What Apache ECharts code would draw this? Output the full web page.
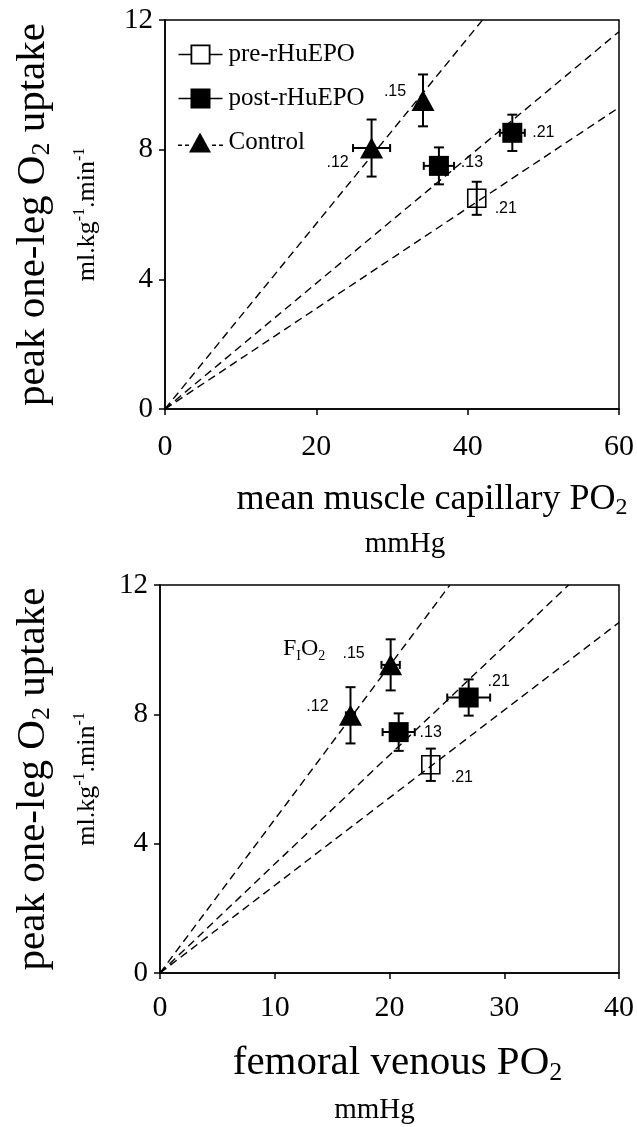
<!DOCTYPE html>
<html>
<head>
<meta charset="utf-8">
<script src="https://cdn.jsdelivr.net/npm/echarts@6/dist/echarts.min.js"></script>
<style>
html,body{margin:0;padding:0;background:#fff;}
#chart{width:637px;height:1127px;}
</style>
</head>
<body>
<div id="chart"></div>
<script>
// ---------- DATA ----------
// Top panel: mean muscle capillary PO2 (mmHg) vs peak one-leg O2 uptake
const capXTicks = [0, 20, 40, 60];
const capPreX = [41.2];
const capPreY = [6.5];
const capPreXErr = [0];
const capPreYErr = [0.51];
const capPreLabels = ['.21'];

const capPostX = [45.9, 36.2];
const capPostY = [8.52, 7.5];
const capPostXErr = [1.65, 2.0];
const capPostYErr = [0.56, 0.57];
const capPostLabels = ['.21', '.13'];

const capCtrlX = [27.3, 34.1];
const capCtrlY = [8.05, 9.52];
const capCtrlXErr = [2.45, 0];
const capCtrlYErr = [0.88, 0.8];
const capCtrlLabels = ['.12', '.15'];

const capSlopes = [0.286, 0.194, 0.155];

// Bottom panel: femoral venous PO2 (mmHg) vs peak one-leg O2 uptake
const femXTicks = [0, 10, 20, 30, 40];
const femPreX = [23.6];
const femPreY = [6.44];
const femPreXErr = [0];
const femPreYErr = [0.5];
const femPreLabels = ['.21'];

const femPostX = [26.9, 20.8];
const femPostY = [8.52, 7.45];
const femPostXErr = [1.87, 1.4];
const femPostYErr = [0.56, 0.58];
const femPostLabels = ['.21', '.13'];

const femCtrlX = [16.6, 20.1];
const femCtrlY = [7.97, 9.53];
const femCtrlXErr = [0.4, 0.8];
const femCtrlYErr = [0.87, 0.79];
const femCtrlLabels = ['.12', '.15'];

const femSlopes = [0.475, 0.337, 0.271];

const yTicks = [0, 4, 8, 12];
const seriesNames = ['pre-rHuEPO', 'post-rHuEPO', 'Control'];

// ---------- LAYOUT / STYLE (not data) ----------
const capLabelOffsets = { pre: [[29, 10]], post: [[31, 0], [33, -3]], ctrl: [[-34, 15], [-28, -9]] };
const femLabelOffsets = { pre: [[31, 13]], post: [[30, -16], [32, 0]], ctrl: [[-33, -9], [-37, -11]] };

const SERIF = 'Liberation Serif';
const SANS = 'Liberation Sans';

function pointItems(xs, ys, labels, offsets) {
  return xs.map((x, i) => ({
    value: [x, ys[i]],
    label: { show: true, formatter: labels[i], offset: offsets[i], position: 'inside',
      fontFamily: SANS, fontSize: 16, color: '#000', opacity: 1 }
  }));
}
function errRows(xs, ys, xe, ye) {
  return xs.map((x, i) => [x, ys[i], xe[i], ye[i]]);
}
function errRender(params, api) {
  const x = api.value(0), y = api.value(1), ex = api.value(2), ey = api.value(3);
  const c = api.coord([x, y]);
  const st = { stroke: '#000', lineWidth: 2 };
  const ch = [];
  if (ey > 0) {
    const t = api.coord([x, y + ey]), b = api.coord([x, y - ey]);
    ch.push({ type: 'line', shape: { x1: c[0], y1: t[1], x2: c[0], y2: b[1] }, style: st });
    ch.push({ type: 'line', shape: { x1: c[0] - 5, y1: t[1], x2: c[0] + 5, y2: t[1] }, style: st });
    ch.push({ type: 'line', shape: { x1: c[0] - 5, y1: b[1], x2: c[0] + 5, y2: b[1] }, style: st });
  }
  if (ex > 0) {
    const l = api.coord([x - ex, y]), r = api.coord([x + ex, y]);
    ch.push({ type: 'line', shape: { x1: l[0], y1: c[1], x2: r[0], y2: c[1] }, style: st });
    ch.push({ type: 'line', shape: { x1: l[0], y1: c[1] - 4, x2: l[0], y2: c[1] + 4 }, style: st });
    ch.push({ type: 'line', shape: { x1: r[0], y1: c[1] - 4, x2: r[0], y2: c[1] + 4 }, style: st });
  }
  return { type: 'group', children: ch };
}
function fitLine(slope, xMax, yMax, xi, yi) {
  const xEnd = Math.min(xMax, yMax / slope);
  return {
    type: 'line', xAxisIndex: xi, yAxisIndex: yi, symbol: 'none', silent: true, z: 1,
    data: [[0, 0], [xEnd, slope * xEnd]],
    lineStyle: { color: '#000', width: 1.4, type: [8, 5], opacity: 1 }
  };
}

function panelSeries(p, xi, yi, xMax) {
  const s = [];
  p.slopes.forEach(k => s.push(fitLine(k, xMax, 12, xi, yi)));
  s.push({ type: 'custom', xAxisIndex: xi, yAxisIndex: yi, renderItem: errRender, z: 2, silent: true,
    encode: { x: 0, y: 1 },
    data: errRows(p.preX, p.preY, p.preXE, p.preYE)
      .concat(errRows(p.postX, p.postY, p.postXE, p.postYE))
      .concat(errRows(p.ctrlX, p.ctrlY, p.ctrlXE, p.ctrlYE)) });
  s.push({ type: 'scatter', name: seriesNames[0], xAxisIndex: xi, yAxisIndex: yi, z: 3, silent: true,
    symbol: 'rect', symbolSize: 18,
    itemStyle: { color: 'rgba(255,255,255,0)', borderColor: '#000', borderWidth: 1.6, opacity: 1 },
    data: pointItems(p.preX, p.preY, p.preL, p.off.pre) });
  s.push({ type: 'scatter', name: seriesNames[1], xAxisIndex: xi, yAxisIndex: yi, z: 3, silent: true,
    symbol: 'rect', symbolSize: 20, itemStyle: { color: '#000', opacity: 1 },
    data: pointItems(p.postX, p.postY, p.postL, p.off.post) });
  s.push({ type: 'scatter', name: seriesNames[2], xAxisIndex: xi, yAxisIndex: yi, z: 3, silent: true,
    symbol: 'triangle', symbolSize: [23, 21], itemStyle: { color: '#000', opacity: 1 },
    data: pointItems(p.ctrlX, p.ctrlY, p.ctrlL, p.off.ctrl) });
  return s;
}

const capPanel = { slopes: capSlopes,
  preX: capPreX, preY: capPreY, preXE: capPreXErr, preYE: capPreYErr, preL: capPreLabels,
  postX: capPostX, postY: capPostY, postXE: capPostXErr, postYE: capPostYErr, postL: capPostLabels,
  ctrlX: capCtrlX, ctrlY: capCtrlY, ctrlXE: capCtrlXErr, ctrlYE: capCtrlYErr, ctrlL: capCtrlLabels,
  off: capLabelOffsets };
const femPanel = { slopes: femSlopes,
  preX: femPreX, preY: femPreY, preXE: femPreXErr, preYE: femPreYErr, preL: femPreLabels,
  postX: femPostX, postY: femPostY, postXE: femPostXErr, postYE: femPostYErr, postL: femPostLabels,
  ctrlX: femCtrlX, ctrlY: femCtrlY, ctrlXE: femCtrlXErr, ctrlYE: femCtrlYErr, ctrlL: femCtrlLabels,
  off: femLabelOffsets };

const axisLineStyle = { show: true, lineStyle: { color: '#000', width: 1.5 } };
const tickStyle = { show: true, inside: false, length: 6, lineStyle: { color: '#000', width: 1.5 } };

function mainX(grid, ticks, name, gap, rich, pad, labelMargin) {
  return { type: 'value', gridIndex: grid, position: 'bottom', min: ticks[0], max: ticks[ticks.length - 1],
    interval: ticks[1] - ticks[0], axisLine: axisLineStyle, axisTick: tickStyle, splitLine: { show: false },
    axisLabel: { fontFamily: SERIF, fontSize: 30, color: '#000', margin: labelMargin },
    name: name, nameLocation: 'middle', nameGap: gap,
    nameTextStyle: { rich: rich, padding: pad } };
}
function hiddenX(grid, ticks, name, gap, pad) {
  return { type: 'value', gridIndex: grid, position: 'bottom', offset: 0, min: ticks[0], max: ticks[ticks.length - 1],
    axisLine: { show: false }, axisTick: { show: false }, axisLabel: { show: false }, splitLine: { show: false },
    name: name, nameLocation: 'middle', nameGap: gap,
    nameTextStyle: { fontFamily: SERIF, fontSize: 29, color: '#000', lineHeight: 32, padding: pad } };
}
function mainY(grid, gap) {
  return { type: 'value', gridIndex: grid, position: 'left', min: yTicks[0], max: yTicks[yTicks.length - 1],
    interval: yTicks[1] - yTicks[0],
    axisLine: axisLineStyle, axisTick: tickStyle, splitLine: { show: false },
    axisLabel: { fontFamily: SERIF, fontSize: 29, color: '#000', margin: 12 },
    name: '{t|peak one-leg O}{s|2}{t| uptake}', nameLocation: 'middle', nameGap: gap, nameRotate: 90,
    nameTextStyle: { rich: {
      t: { fontFamily: SERIF, fontSize: 41, color: '#000', lineHeight: 44 },
      s: { fontFamily: SERIF, fontSize: 26, color: '#000', lineHeight: 20, verticalAlign: 'bottom' } } } };
}
function unitsY(grid, gap) {
  return { type: 'value', gridIndex: grid, position: 'left', offset: 0, min: 0, max: 12,
    axisLine: { show: false }, axisTick: { show: false }, axisLabel: { show: false }, splitLine: { show: false },
    name: '{u|ml.kg}{p|-1}{u|.min}{p|-1}', nameLocation: 'middle', nameGap: gap, nameRotate: 90,
    nameTextStyle: { rich: {
      u: { fontFamily: SERIF, fontSize: 26, color: '#000', lineHeight: 30 },
      p: { fontFamily: SERIF, fontSize: 16, color: '#000', lineHeight: 16, verticalAlign: 'top' } } } };
}

const capTitleRich = {
  t: { fontFamily: SERIF, fontSize: 36, color: '#000', lineHeight: 40 },
  s: { fontFamily: SERIF, fontSize: 24, color: '#000', lineHeight: 18, verticalAlign: 'bottom' } };
const femTitleRich = {
  t: { fontFamily: SERIF, fontSize: 41, color: '#000', lineHeight: 46 },
  s: { fontFamily: SERIF, fontSize: 26, color: '#000', lineHeight: 20, verticalAlign: 'bottom' } };

// legend icons (drawn shapes, not data)
const iconPre = 'path://M0,9.2h12v1.6h-12z M12,0 L32,0 L32,20 L12,20 Z M13.8,1.8 L13.8,18.2 L30.2,18.2 L30.2,1.8 Z M32,9.2h12v1.6h-12z';
const iconPost = 'path://M0,9.2h12v1.6h-12z M12,0h20v20h-20z M32,9.2h12v1.6h-12z';
const iconCtrl = 'path://M0,12h4v1.5h-4z M7,12h4v1.5h-4z M11,20 L22,0 L33,20 Z M34,12h4v1.5h-4z M41,12h4v1.5h-4z';

const option = {
  backgroundColor: '#fff',
  animation: false,
  grid: [
    { left: 165, top: 20, right: 18, height: 389, show: true, borderColor: '#000', borderWidth: 1.5, backgroundColor: 'transparent' },
    { left: 160, top: 585, right: 18, height: 393, show: true, borderColor: '#000', borderWidth: 1.5, backgroundColor: 'transparent' }
  ],
  legend: {
    orient: 'vertical', left: 173, top: 37, itemWidth: 46, itemHeight: 20, itemGap: 19,
    selectedMode: false,
    textStyle: { fontFamily: SERIF, fontSize: 25, color: '#000' },
    data: [
      { name: seriesNames[0], icon: iconPre, itemStyle: { color: '#000', borderWidth: 0, opacity: 1 } },
      { name: seriesNames[1], icon: iconPost, itemStyle: { color: '#000', borderWidth: 0, opacity: 1 } },
      { name: seriesNames[2], icon: iconCtrl, itemStyle: { color: '#000', borderWidth: 0, opacity: 1 } }
    ]
  },
  xAxis: [
    mainX(0, capXTicks, '{t|mean muscle capillary PO}{s|2}', 71, capTitleRich, [0, 0, 0, 80], 23),
    hiddenX(0, capXTicks, 'mmHg', 119, [0, 0, 0, 26]),
    mainX(1, femXTicks, '{t|femoral venous PO}{s|2}', 67, femTitleRich, [0, 0, 0, 16], 20),
    hiddenX(1, femXTicks, 'mmHg', 121, [0, 30, 0, 0])
  ],
  yAxis: [
    mainY(0, 110), unitsY(0, 63),
    mainY(1, 105), unitsY(1, 58)
  ],
  graphic: [
    { type: 'text', left: 283, top: 637, z: 10,
      style: { text: '{f|F}{i|I}{f|O}{i|2}', rich: {
        f: { fontFamily: SERIF, fontSize: 24, fill: '#000', lineHeight: 28 },
        i: { fontFamily: SERIF, fontSize: 14, fill: '#000', lineHeight: 14, verticalAlign: 'bottom' } } } }
  ],
  series: panelSeries(capPanel, 0, 0, 60).concat(panelSeries(femPanel, 2, 2, 40))
};

const chart = echarts.init(document.getElementById('chart'), null, { renderer: 'canvas' });
chart.setOption(option);
</script>
</body>
</html>
